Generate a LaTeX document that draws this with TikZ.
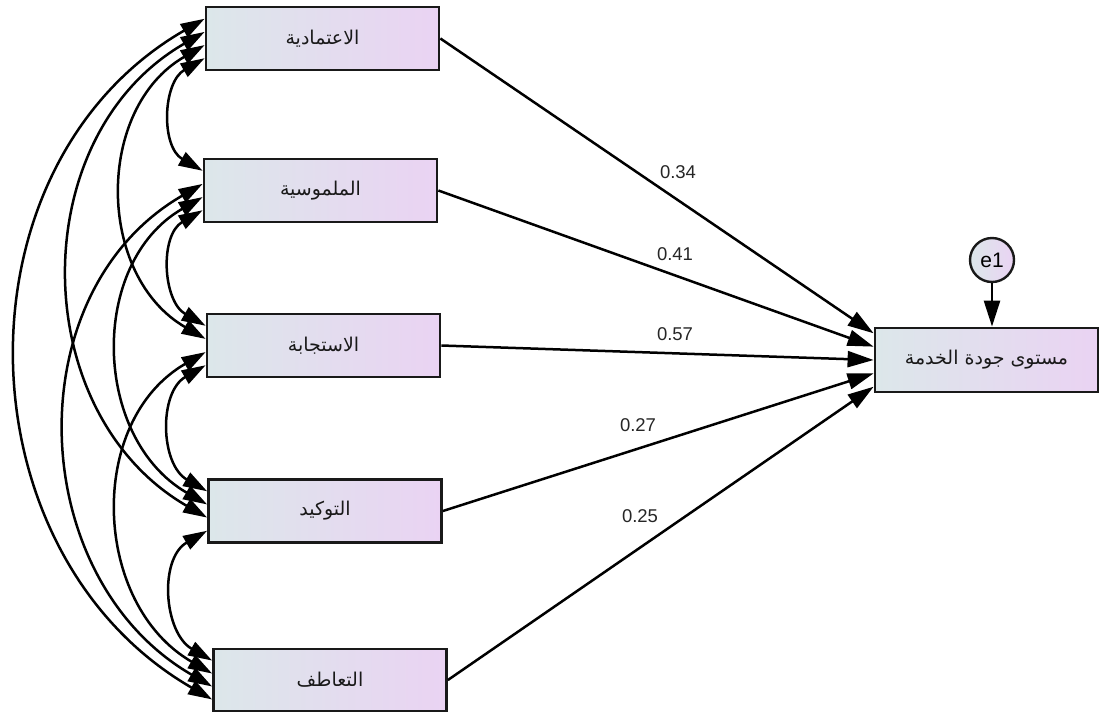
\documentclass[tikz,border=0pt]{standalone}
\usepackage{fontspec}
\setmainfont{Liberation Sans}
\newfontfamily\arabicfont[Script=Arabic]{DejaVu Sans}
\TeXXeTstate=1
\usetikzlibrary{arrows.meta,calc}
\definecolor{boxL}{RGB}{220,231,234}
\definecolor{boxR}{RGB}{234,211,243}
\definecolor{edge}{RGB}{25,25,25}
\tikzset{
  var/.style={draw=edge, line width=2.8pt, left color=boxL, right color=boxR,
    minimum width=233pt, minimum height=63pt, inner sep=0pt,
    text=black!90, font=\arabicfont\fontsize{19}{22}\selectfont},
  errvar/.style={circle, draw=edge, line width=2.4pt, left color=boxL, right color=boxR,
    minimum size=44pt, inner sep=0pt, font=\fontsize{21}{23}\selectfont},
  path/.style={line width=2.5pt, -{Triangle[length=26pt,width=16pt]}},
  cov/.style={line width=2.5pt, {Triangle[length=24pt,width=15pt]}-{Triangle[length=24pt,width=15pt]},
    out=210, in=150, looseness=1.1},
  coef/.style={font=\fontsize{18.5}{20}\selectfont, text=black!85}
}
\begin{document}
\begin{tikzpicture}[x=1pt,y=1pt]
\useasboundingbox (0,-713) rectangle (1100,0);

% exogenous variables
\node[var] (B1) at (322.5,-38.5) {\beginR الاعتمادية\endR};
\node[var] (B2) at (320.5,-190.5) {\beginR الملموسية\endR};
\node[var] (B3) at (323.5,-345.5) {\beginR الاستجابة\endR};
\node[var] (B4) at (325,-511) {\beginR التوكيد\endR};
\node[var, minimum height=62pt] (B5) at (330,-680) {\beginR التعاطف\endR};

% endogenous variable and its error term
\node[var, minimum width=223pt, minimum height=64pt] (Y) at (986.5,-360) {\beginR مستوى جودة الخدمة\endR};
\node[errvar] (e1) at (992,-260) {e1};

% attachment points on the left edges of the exogenous boxes
\foreach \b in {B1,B2,B3,B4,B5}{
  \foreach \k in {1,2,3,4}{
    \coordinate (\b-\k) at ($(\b.north west)!{0.2*\k}!(\b.south west)$);
  }
}
% attachment points on the left edge of the endogenous box
\foreach \k in {1,...,5}{
  \coordinate (Y-\k) at ($(Y.north west)!{0.2*\k-0.1}!(Y.south west)$);
}

% regression paths
\draw[path] (B1.east) -- (Y-1);
\draw[path] (B2.east) -- (Y-2);
\draw[path] (B3.east) -- (Y-3);
\draw[path] (B4.east) -- (Y-4);
\draw[path] (B5.east) -- (Y-5);
\draw[path] (e1) -- (Y.north -| e1);

% path coefficients
\node[coef] (c1) at (678,-172) {0.34};
\node[coef] (c2) at (675,-254) {0.41};
\node[coef] (c3) at (675,-334) {0.57};
\node[coef] (c4) at (638,-425) {0.27};
\node[coef] (c5) at (640,-516) {0.25};

% covariances between the exogenous variables
\draw[cov] (B1-4) to (B2-1);
\draw[cov] (B1-3) to (B3-2);
\draw[cov] (B1-2) to (B4-3);
\draw[cov] (B1-1) to (B5-4);
\draw[cov] (B2-4) to (B3-1);
\draw[cov] (B2-3) to (B4-2);
\draw[cov] (B2-2) to (B5-3);
\draw[cov] (B3-4) to (B4-1);
\draw[cov] (B3-3) to (B5-2);
\draw[cov] (B4-4) to (B5-1);
\end{tikzpicture}
\end{document}
